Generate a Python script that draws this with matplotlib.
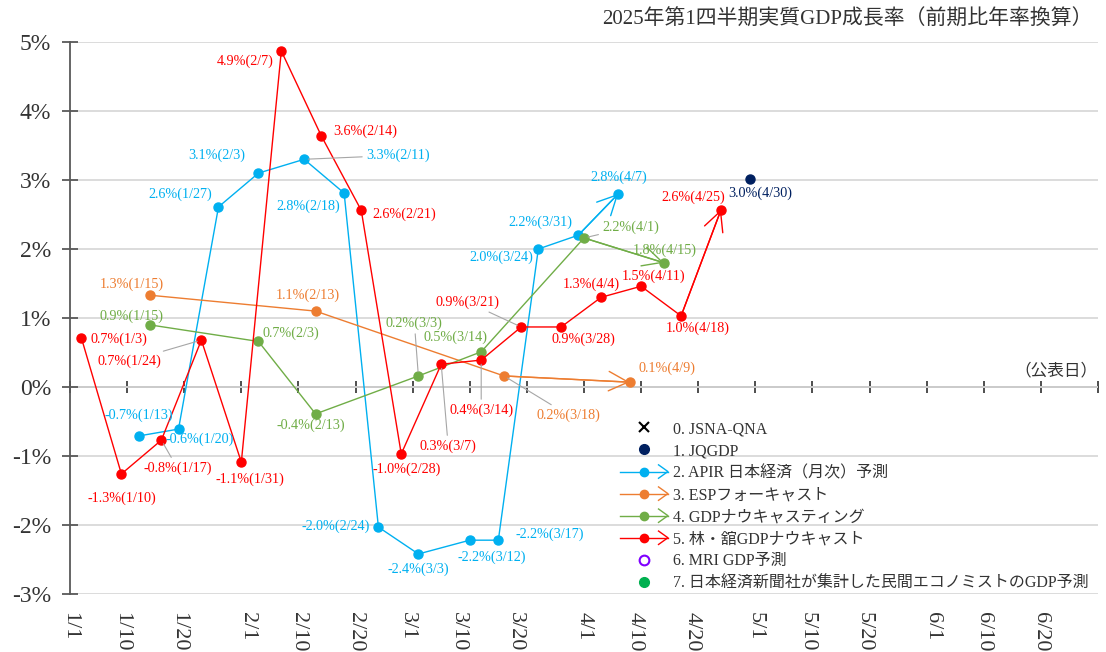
import matplotlib.pyplot as plt
import matplotlib.dates as mdates
import pandas as pd
from matplotlib.lines import Line2D
from matplotlib.legend_handler import HandlerBase
from matplotlib.ticker import FuncFormatter

plt.rcParams['font.family'] = ['Liberation Serif', 'Noto Sans CJK JP']

TITLE = '2025年第1四半期実質GDP成長率（前期比年率換算）'

# 1. JQGDP
jqgdp_dates = ['4/30']
jqgdp_vals = [3.01]

# 2. APIR 日本経済（月次）予測
apir_dates = ['1/13', '1/20', '1/27', '2/3', '2/11', '2/18', '2/24', '3/3', '3/12', '3/17', '3/24', '3/31', '4/7']
apir_vals = [-0.71, -0.61, 2.61, 3.10, 3.30, 2.81, -2.03, -2.42, -2.22, -2.22, 2.00, 2.20, 2.80]

# 3. ESPフォーキャスト
esp_dates = ['1/15', '2/13', '3/18', '4/9']
esp_vals = [1.33, 1.10, 0.16, 0.07]

# 4. GDPナウキャスティング
nowcasting_dates = ['1/15', '2/3', '2/13', '3/3', '3/14', '4/1', '4/15']
nowcasting_vals = [0.90, 0.66, -0.39, 0.16, 0.51, 2.16, 1.80]

# 5. 林・舘GDPナウキャスト
hayashi_dates = ['1/3', '1/10', '1/17', '1/24', '1/31', '2/7', '2/14', '2/21', '2/28',
                 '3/7', '3/14', '3/21', '3/28', '4/4', '4/11', '4/18', '4/25']
hayashi_vals = [0.71, -1.26, -0.77, 0.68, -1.09, 4.87, 3.64, 2.56, -0.97,
                0.33, 0.39, 0.87, 0.87, 1.30, 1.46, 1.03, 2.57]

legend_labels = ['0. JSNA-QNA', '1. JQGDP', '2. APIR 日本経済（月次）予測', '3. ESPフォーキャスト',
                 '4. GDPナウキャスティング', '5. 林・舘GDPナウキャスト', '6. MRI GDP予測',
                 '7. 日本経済新聞社が集計した民間エコノミストのGDP予測']

tick_label_dates = ['1/1', '1/10', '1/20', '2/1', '2/10', '2/20', '3/1', '3/10', '3/20',
                    '4/1', '4/10', '4/20', '5/1', '5/10', '5/20', '6/1', '6/10', '6/20']

# label offsets in pixels (layout only)
apir_off = [(0, 21), (21, -10), (-38, 13), (-42, 18), (94, 4), (-36, -13), (-43, 1),
            (0, -15), (22, -17), (51, 6), (-37, -8), (-38, 13), (0, 17)]
esp_off = [(-18, 11), (-8, 16), (64, -39), (37, 14)]
nowcasting_off = [(-18, 9), (32, 8), (-5, -11), (-4, 53), (-26, 15), (47, 11), (1, 13)]
hayashi_off = [(38, -1), (0, -24), (16, -28), (-72, -21), (9, -17), (-36, -10), (44, 5), (43, -4),
               (5, -15), (7, -82), (0, -50), (-54, 25), (22, -12), (-10, 13), (12, 10), (17, -12), (-28, 12)]
jqgdp_off = [(11, -14)]


def to_dt(ds):
    return pd.to_datetime(['2025/' + d for d in ds])


class ArrowHandler(HandlerBase):
    def create_artists(self, legend, orig, xdescent, ydescent, width, height, fontsize, trans):
        y = height / 2 - ydescent
        x0, x1 = -xdescent, -xdescent + width
        c = orig.get_color()
        hw = height * 0.6
        line = Line2D([x0, x1], [y, y], color=c, lw=1.0)
        dot = Line2D([(x0 + x1) / 2], [y], marker='o', ms=6, color=c, ls='none')
        head = Line2D([x1 - hw * 1.4, x1, x1 - hw * 1.4], [y + hw, y, y - hw], color=c, lw=1.0)
        for a in (line, dot, head):
            a.set_transform(trans)
        return [line, dot, head]


fig = plt.figure(figsize=(11.06, 6.52), dpi=100)
ax = fig.add_axes([70 / 1106, 1 - 594 / 652, 1028 / 1106, 552 / 652])

gray = '#A6A6A6'
series = [
    (apir_dates, apir_vals, '#00B0F0', apir_off, {4}, True),
    (esp_dates, esp_vals, '#ED7D31', esp_off, {2}, True),
    (nowcasting_dates, nowcasting_vals, '#70AD47', nowcasting_off, {3, 5}, True),
    (hayashi_dates, hayashi_vals, '#FF0000', hayashi_off, {2, 3, 9, 10, 11}, True),
    (jqgdp_dates, jqgdp_vals, '#002060', jqgdp_off, set(), False),
]

for dates, vals, c, offs, leaders, arrow in series:
    x = to_dt(dates)
    ax.plot(x, vals, color=c, lw=1.0, marker='o', ms=6.5, zorder=3)
    if arrow:
        ax.annotate('', xy=(x[-1], vals[-1]), xytext=(x[-2], vals[-2]),
                    arrowprops=dict(arrowstyle='->,head_length=0.7,head_width=0.35', color=c, lw=1.0,
                                    shrinkA=0, shrinkB=0, mutation_scale=20), zorder=3)
    for i, (xi, v, d, o) in enumerate(zip(x, vals, dates, offs)):
        ap = None
        if i in leaders:
            ap = dict(arrowstyle='-', color=gray, lw=0.8, shrinkA=1, shrinkB=3)
        ax.annotate(f'{v:.1f}%({d})', xy=(xi, v), xytext=o, textcoords='offset pixels',
                    ha='center', va='center', fontsize=10.2, color=c, arrowprops=ap, zorder=4)

ax.set_xlim(pd.Timestamp('2025-01-01'), pd.Timestamp('2025-06-30'))
ax.set_ylim(-3, 5)
ax.set_yticks(range(-3, 6))
ax.yaxis.set_major_formatter(FuncFormatter(lambda v, p: f'{v:.0f}%'))
ax.yaxis.grid(True, color='#D9D9D9', lw=1.3)
ax.set_axisbelow(True)

ax.set_xticks(to_dt(tick_label_dates))
ax.set_xticklabels(tick_label_dates, rotation=-90)
ax.tick_params(axis='x', length=0, pad=13, labelsize=16, labelcolor='#333333')
ax.tick_params(axis='y', direction='inout', length=11, width=1.3, color='#595959',
               labelsize=17, labelcolor='#333333', pad=8)
for s in ('top', 'right', 'bottom'):
    ax.spines[s].set_visible(False)
ax.spines['left'].set_color('#595959')
ax.spines['left'].set_linewidth(1.3)

sec = ax.secondary_xaxis(3 / 8)
sec.set_xticks(mdates.date2num(pd.date_range('2025-01-01', '2025-06-30', freq='10D')))
sec.tick_params(axis='x', direction='inout', length=9, width=1.3, color='#404040', labelbottom=False)
sec.spines['bottom'].set_color('#404040')
sec.spines['bottom'].set_linewidth(1.3)

ax.annotate('（公表日）', xy=(1, 0), xycoords=('axes fraction', 'data'), xytext=(0, 8),
            textcoords='offset pixels', ha='right', va='bottom', fontsize=12, color='#333333')
fig.text(1093 / 1106, 1 - 20 / 652, TITLE, ha='right', va='center', fontsize=15, color='#333333')

handles = [
    Line2D([], [], ls='none', marker='x', color='black', ms=7, mew=1.5),
    Line2D([], [], ls='none', marker='o', color='#002060', ms=7),
    Line2D([], [], color='#00B0F0'),
    Line2D([], [], color='#ED7D31'),
    Line2D([], [], color='#70AD47'),
    Line2D([], [], color='#FF0000'),
    Line2D([], [], ls='none', marker='o', mfc='white', mec='#7F00FF', mew=1.5, ms=7),
    Line2D([], [], ls='none', marker='o', color='#00B050', ms=7),
]
hmap = {h: ArrowHandler() for h in handles[2:6]}
fig.legend(handles, legend_labels, handler_map=hmap, loc='upper left',
           bbox_to_anchor=(620 / 1106, 1 - 421 / 652), bbox_transform=fig.transFigure,
           frameon=False, borderpad=0, borderaxespad=0, fontsize=11.5, handlelength=3.0,
           handletextpad=0.3, labelspacing=0.38, labelcolor='#333333')

fig.savefig('out.png', dpi=100)
